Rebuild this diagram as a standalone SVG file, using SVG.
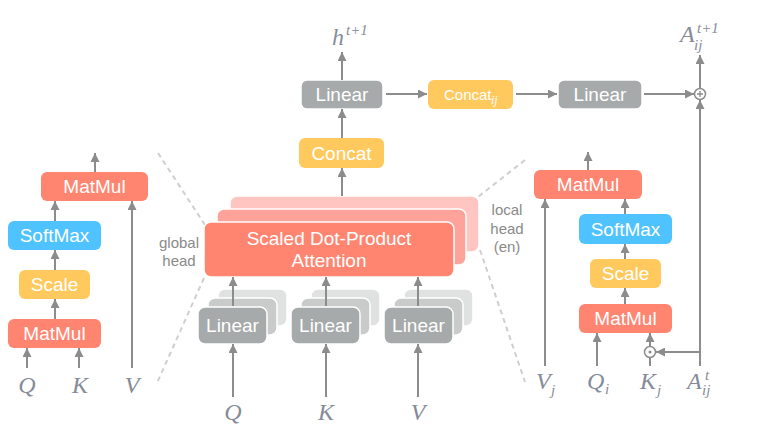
<svg xmlns="http://www.w3.org/2000/svg" width="764" height="434" viewBox="0 0 764 434">
<defs>
<marker id="ah" viewBox="0 0 10 10" refX="10" refY="5" markerWidth="9" markerHeight="9" markerUnits="userSpaceOnUse" orient="auto"><path d="M0,0 L10,5 L0,10 z" fill="#8c8c8c"/></marker>
</defs>
<style>
.ln{stroke:#8c8c8c;stroke-width:2;fill:none}
.ar{stroke:#8c8c8c;stroke-width:2;fill:none;marker-end:url(#ah)}
.dash{stroke:#cfcfcf;stroke-width:2;fill:none;stroke-dasharray:5 4}
.red{fill:#ff8571}
.red2{fill:#ffa39a;stroke:#fff;stroke-width:1.5}
.red3{fill:#ffc6c1;stroke:#fff;stroke-width:1.5}
.yel{fill:#ffc95e}
.blu{fill:#4fc3ff}
.gry{fill:#a6aaaa;stroke:#fff;stroke-width:1.5}
.gry2{fill:#c9cbcb;stroke:#fff;stroke-width:1.5}
.gry3{fill:#e0e1e1;stroke:#fff;stroke-width:1.5}
.bt{font-family:"Liberation Sans",Arial,sans-serif;font-size:19px;fill:#fff;text-anchor:middle}
.lbl{font-family:"Liberation Sans",Arial,sans-serif;font-size:15px;fill:#8a8a8a;text-anchor:middle}
.m{font-family:"Liberation Serif","Times New Roman",serif;font-style:italic;font-size:24px;fill:#868b99}
.ms{font-family:"Liberation Serif","Times New Roman",serif;font-style:italic;font-size:15px;fill:#868b99}
</style>

<g id="dashes">
<line class="dash" x1="158" y1="153" x2="205" y2="225"/>
<line class="dash" x1="204" y1="278" x2="157" y2="383"/>
<line class="dash" x1="525" y1="160" x2="478" y2="197"/>
<line class="dash" x1="480" y1="250" x2="525" y2="382"/>
</g>

<!-- Left panel -->
<g id="l-matmul-top"><rect class="red" x="41" y="172" width="107" height="29" rx="6"/><text class="bt" x="94.5" y="193">MatMul</text></g>
<g id="l-softmax"><rect class="blu" x="8" y="221" width="93" height="29" rx="6"/><text class="bt" x="54.5" y="242">SoftMax</text></g>
<g id="l-scale"><rect class="yel" x="19" y="270" width="71" height="29" rx="6"/><text class="bt" x="54.5" y="291">Scale</text></g>
<g id="l-matmul-bot"><rect class="red" x="8" y="319" width="93" height="29" rx="6"/><text class="bt" x="54.5" y="340">MatMul</text></g>
<g id="l-labels">
<text class="m" x="27" y="393" text-anchor="middle">Q</text>
<text class="m" x="80" y="393" text-anchor="middle">K</text>
<text class="m" x="132" y="393" text-anchor="middle">V</text>
</g>

<!-- Center -->
<g id="sdpa">
<rect class="red3" x="230" y="196" width="249" height="56" rx="7"/>
<rect class="red2" x="217" y="209" width="249" height="56" rx="7"/>
<rect class="red" x="204" y="222" width="250" height="55" rx="7" stroke="#fff" stroke-width="1.5"/>
<text class="bt" x="329" y="245">Scaled Dot-Product</text>
<text class="bt" x="329" y="267">Attention</text>
</g>
<g id="global-label"><text class="lbl" x="179" y="248">global</text><text class="lbl" x="179" y="266">head</text></g>
<g id="local-label"><text class="lbl" x="507" y="215">local</text><text class="lbl" x="507" y="234">head</text><text class="lbl" x="507" y="252">(en)</text></g>

<g id="linear-q">
<rect class="gry3" x="218" y="289" width="69" height="37" rx="7"/>
<rect class="gry2" x="208" y="298" width="69" height="37" rx="7"/>
<rect class="gry" x="198" y="307" width="69" height="37" rx="7"/>
<text class="bt" x="232.5" y="332">Linear</text>
</g>
<g id="linear-k">
<rect class="gry3" x="311" y="289" width="69" height="37" rx="7"/>
<rect class="gry2" x="301" y="298" width="69" height="37" rx="7"/>
<rect class="gry" x="291" y="307" width="69" height="37" rx="7"/>
<text class="bt" x="325.5" y="332">Linear</text>
</g>
<g id="linear-v">
<rect class="gry3" x="404" y="289" width="69" height="37" rx="7"/>
<rect class="gry2" x="394" y="298" width="69" height="37" rx="7"/>
<rect class="gry" x="384" y="307" width="69" height="37" rx="7"/>
<text class="bt" x="418.5" y="332">Linear</text>
</g>
<g id="c-labels">
<text class="m" x="233" y="420" text-anchor="middle">Q</text>
<text class="m" x="326" y="420" text-anchor="middle">K</text>
<text class="m" x="418" y="420" text-anchor="middle">V</text>
</g>

<g id="concat"><rect class="yel" x="299" y="138" width="85" height="30" rx="6"/><text class="bt" x="341.5" y="160">Concat</text></g>
<g id="linear-top"><rect class="gry" x="301" y="80" width="82" height="29" rx="6" stroke="none"/><text class="bt" x="342" y="101">Linear</text></g>
<g id="h-label"><text class="m" x="332" y="45" font-size="27">h</text><text class="ms" x="346" y="35" font-size="16">t+1</text></g>

<g id="concat-ij"><rect class="yel" x="428" y="80" width="85" height="29" rx="6"/>
<text font-family="Liberation Sans,Arial,sans-serif" font-size="15" fill="#fff" x="444" y="99.5">Concat</text><text font-family="Liberation Serif,serif" font-style="italic" font-size="12" fill="#fff" x="491" y="104">ij</text></g>
<g id="linear-right"><rect class="gry" x="558" y="80" width="84" height="29" rx="6" stroke="none"/><text class="bt" x="600" y="101">Linear</text></g>
<g id="oplus"><circle cx="700" cy="94" r="5.5" fill="#fff" stroke="#8c8c8c" stroke-width="1.5"/><path d="M697,94 H703 M700,91 V97" stroke="#8c8c8c" stroke-width="1.3"/></g>
<g id="a-next"><text class="m" x="680" y="42">A</text><text class="ms" x="697" y="33">t+1</text><text class="ms" x="694" y="50">ij</text></g>

<!-- Right panel -->
<g id="r-matmul-top"><rect class="red" x="534" y="170" width="108" height="29" rx="6"/><text class="bt" x="588" y="191">MatMul</text></g>
<g id="r-softmax"><rect class="blu" x="579" y="214" width="93" height="30" rx="6"/><text class="bt" x="625.5" y="235.5">SoftMax</text></g>
<g id="r-scale"><rect class="yel" x="590" y="259" width="71" height="29" rx="6"/><text class="bt" x="625.5" y="280">Scale</text></g>
<g id="r-matmul-bot"><rect class="red" x="579" y="304" width="93" height="29" rx="6"/><text class="bt" x="625.5" y="325">MatMul</text></g>
<g id="odot"><circle cx="650" cy="352" r="5.5" fill="#fff" stroke="#8c8c8c" stroke-width="1.5"/><circle cx="650" cy="352" r="1.5" fill="#8c8c8c"/></g>
<g id="r-labels">
<text class="m" x="536" y="389">V</text><text class="ms" x="551" y="395">j</text>
<text class="m" x="587" y="389">Q</text><text class="ms" x="605" y="394">i</text>
<text class="m" x="640" y="389">K</text><text class="ms" x="657" y="395">j</text>
<text class="m" x="687" y="389">A</text><text class="ms" x="705" y="380">t</text><text class="ms" x="702" y="395">ij</text>
</g>

<g id="connectors">
<!-- left -->
<line class="ar" x1="95" y1="172" x2="95" y2="153"/>
<line class="ar" x1="55" y1="221" x2="55" y2="201"/>
<line class="ar" x1="55" y1="270" x2="55" y2="250"/>
<line class="ar" x1="55" y1="319" x2="55" y2="299"/>
<line class="ar" x1="27" y1="368" x2="27" y2="348"/>
<line class="ar" x1="79" y1="368" x2="79" y2="348"/>
<line class="ar" x1="132" y1="368" x2="132" y2="201"/>
<!-- center -->
<line class="ar" x1="233" y1="397" x2="233" y2="344"/>
<line class="ar" x1="326" y1="397" x2="326" y2="344"/>
<line class="ar" x1="418" y1="397" x2="418" y2="344"/>
<line class="ar" x1="233" y1="306" x2="233" y2="277"/>
<line class="ar" x1="326" y1="306" x2="326" y2="277"/>
<line class="ar" x1="418" y1="306" x2="418" y2="277"/>
<line class="ar" x1="342" y1="196" x2="342" y2="168"/>
<line class="ar" x1="342" y1="138" x2="342" y2="109"/>
<line class="ar" x1="342" y1="80" x2="342" y2="52"/>
<line class="ar" x1="386" y1="94" x2="427" y2="94"/>
<line class="ar" x1="516" y1="94" x2="557" y2="94"/>
<line class="ar" x1="644" y1="94" x2="694" y2="94"/>
<line class="ar" x1="700" y1="88" x2="700" y2="55"/>
<line class="ar" x1="700" y1="366" x2="700" y2="100"/>
<!-- right -->
<line class="ar" x1="588" y1="170" x2="588" y2="152"/>
<line class="ar" x1="625" y1="214" x2="625" y2="199"/>
<line class="ar" x1="625" y1="259" x2="625" y2="244"/>
<line class="ar" x1="625" y1="304" x2="625" y2="288"/>
<line class="ar" x1="545" y1="366" x2="545" y2="199"/>
<line class="ar" x1="597" y1="366" x2="597" y2="333"/>
<line class="ln" x1="650" y1="366" x2="650" y2="357.5"/>
<line class="ar" x1="650" y1="346.5" x2="650" y2="333"/>
<line class="ar" x1="700" y1="352" x2="656" y2="352"/>
</g>
</svg>
